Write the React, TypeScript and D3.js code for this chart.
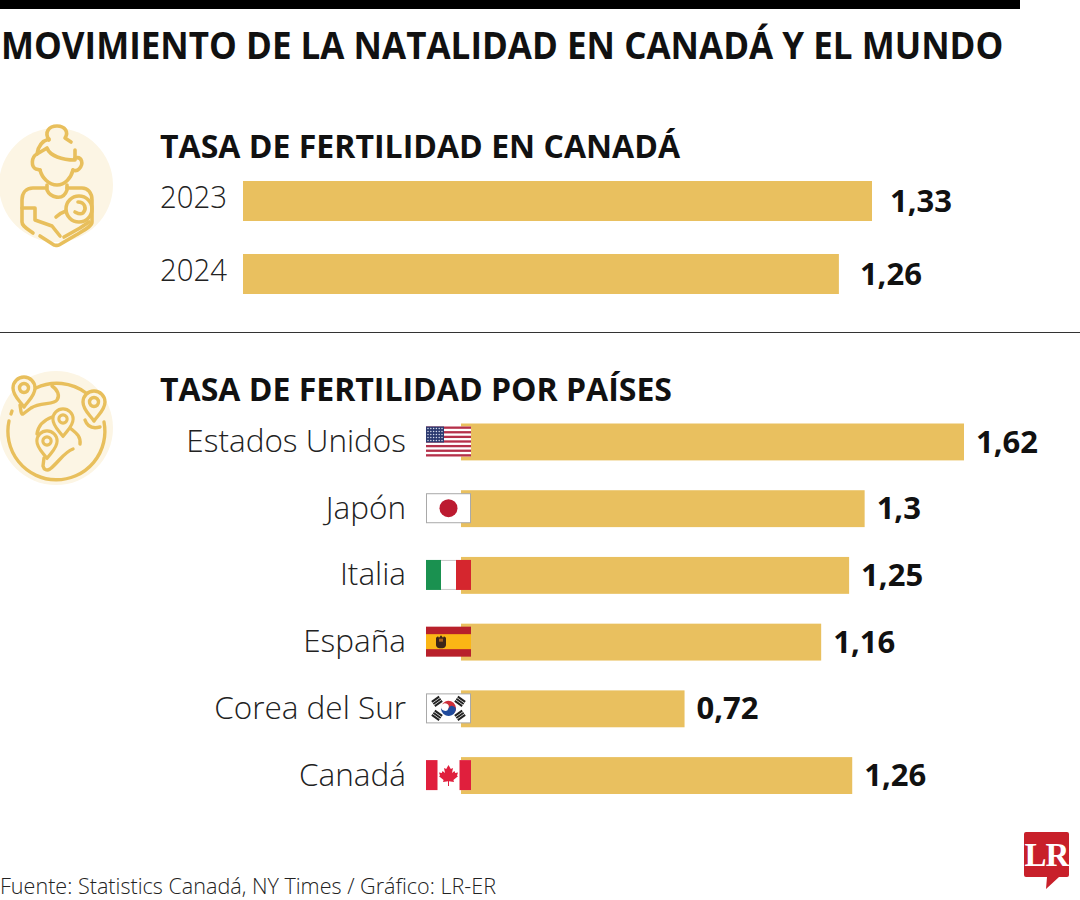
import React from "react";
import * as d3 from "d3";

const title = "MOVIMIENTO DE LA NATALIDAD EN CANADÁ Y EL MUNDO";
const canadaHeading = "TASA DE FERTILIDAD EN CANADÁ";
const countriesHeading = "TASA DE FERTILIDAD POR PAÍSES";
const source = "Fuente: Statistics Canadá, NY Times / Gráfico: LR-ER";
const years = ["2023", "2024"];
const yearValues = [1.33, 1.26];
const yearLabels = ["1,33", "1,26"];
const countries = ["Estados Unidos", "Japón", "Italia", "España", "Corea del Sur", "Canadá"];
const countryValues = [1.62, 1.3, 1.25, 1.16, 0.72, 1.26];
const countryLabels = ["1,62", "1,3", "1,25", "1,16", "0,72", "1,26"];
const flagCodes = ["us", "jp", "it", "es", "kr", "ca"];

const GOLD = "#e9c05f";
const ICON = "#e8bf5c";
const PALE = "#fcf5e4";
const FONT = "'Open Sans', sans-serif";

const yearX = d3.scaleLinear().domain([0, 1.33]).range([243, 872]);
const yearY = d3.scaleBand().domain(years).range([181, 294]).paddingInner(0.452).paddingOuter(0);
const countryX = d3.scaleLinear().domain([0, 1.62]).range([461, 964]);
const countryY = d3.scaleBand().domain(countries).range([423.5, 794]).paddingInner(0.447).paddingOuter(0);
const yearLabelGap = [18, 21];

function FitText({ x, y, width, children, ...rest }: any) {
  const ref = React.useRef<SVGTextElement>(null);
  React.useLayoutEffect(() => {
    const el = ref.current;
    if (!el) return;
    const natural = el.getComputedTextLength();
    el.setAttribute("transform", `translate(${x},${y}) scale(${width / natural},1)`);
  }, [x, y, width]);
  return <text ref={ref} transform={`translate(${x},${y})`} {...rest}>{children}</text>;
}

function Flag({ code, x, y }: { code: string; x: number; y: number }) {
  const w = 45, h = 30;
  const inner = () => {
    if (code === "us") {
      const stripes = d3.range(13);
      const stars: [number, number][] = [];
      d3.range(5).forEach((r) => d3.range(6).forEach((c) => stars.push([2 + c * 2.8, 2 + r * 3])));
      return (
        <g>
          <rect width={w} height={h} fill="#fff" />
          {stripes.filter((i) => i % 2 === 0).map((i) => (
            <rect key={i} y={(i * h) / 13} width={w} height={h / 13} fill="#b5304a" />
          ))}
          <rect width={18} height={16} fill="#2c3a70" />
          {stars.map(([sx, sy], i) => <circle key={i} cx={sx} cy={sy} r={0.75} fill="#d8dcec" />)}
        </g>
      );
    }
    if (code === "jp") {
      return (
        <g>
          <rect x={0.5} y={0.5} width={w - 1} height={h - 1} fill="#fff" stroke="#a9a9a9" />
          <circle cx={22.5} cy={15} r={9} fill="#bc1a30" />
        </g>
      );
    }
    if (code === "it") {
      return (
        <g>
          <rect x={14} y={0.5} width={17} height={h - 1} fill="#fff" stroke="#c9c9c9" />
          <rect width={15} height={h} fill="#1a9150" />
          <rect x={30} width={15} height={h} fill="#d5262e" />
        </g>
      );
    }
    if (code === "es") {
      return (
        <g>
          <rect width={w} height={h} fill="#b8202b" />
          <rect y={7.5} width={w} height={15} fill="#fbb615" />
          <path d="M10,11 L12,9.5 L13,11 L15,8.5 L17,11 L18,9.5 L20,11 L20,18 C20,21 17,21.5 15,21.5 C13,21.5 10,21 10,18 Z" fill="#3c2418" />
          <rect x={13} y={12} width={4} height={3} fill="#a8601e" />
        </g>
      );
    }
    if (code === "kr") {
      const bars: [number, number, number][] = [[11, 8, -35], [34, 8, 35], [11, 22, 35], [34, 22, -35]];
      return (
        <g>
          <rect x={0.5} y={0.5} width={w - 1} height={h - 1} fill="#fff" stroke="#a9a9a9" />
          {bars.map(([bx, by, a], i) => (
            <g key={i} transform={`translate(${bx},${by}) rotate(${a})`}>
              {[-2.6, 0, 2.6].map((o) => <rect key={o} x={-4.5} y={o - 1} width={9} height={2} fill="#222" />)}
            </g>
          ))}
          <g transform="translate(22.5,15) rotate(20)">
            <path d="M-7.5,0A7.5,7.5 0 0 1 7.5,0A3.75,3.75 0 0 1 0,0A3.75,3.75 0 0 0 -7.5,0Z" fill="#cd2e3a" />
            <path d="M-7.5,0A7.5,7.5 0 0 0 7.5,0A3.75,3.75 0 0 0 0,0A3.75,3.75 0 0 1 -7.5,0Z" fill="#1f4a9c" />
          </g>
        </g>
      );
    }
    return (
      <g>
        <rect width={w} height={h} fill="#fff" />
        <rect width={11.5} height={h} fill="#e01f3d" />
        <rect x={33.5} width={11.5} height={h} fill="#e01f3d" />
        <path
          d="M22.5,5 L24.8,9 L27,8 L26,13 L28.5,11 L29.2,13 L32,12.5 L31,15.5 L32,16.2 L27.4,20 L28,22 L23,21.2 L23,26 L22,26 L22,21.2 L17,22 L17.6,20 L13,16.2 L14,15.5 L13,12.5 L15.8,13 L16.5,11 L19,13 L18,8 L20.2,9 Z"
          fill="#e01f3d"
        />
      </g>
    );
  };
  return <g transform={`translate(${x},${y})`}>{inner()}</g>;
}

function MotherIcon() {
  return (
    <g>
      <circle cx={56} cy={185} r={57} fill={PALE} />
      <g fill="none" stroke={ICON} strokeWidth={3.6} strokeLinecap="round" strokeLinejoin="round">
        <path d="M49,140 C44,132 49,126 57,126 C65,126 69,132 65,138 L71,142" />
        <path d="M49,139 C42,141 38,147 37,154 C31,157 31,167 36,169 L40,170" />
        <path d="M37,154 C40,152 44,150 47,148 C50,156 62,160 75,160 L75,150" />
        <path d="M75,158 C82,156 84,164 79,169 C77,171 75,171 73,170" />
        <path d="M40,170 C42,178 49,185 57,185 C65,185 71,178 73,170" />
        <path d="M47,185 L47,190 C50,197 63,202 67,190 L67,185" />
        <path d="M46,188 L33,188 C26,188 22,193 22,200 L22,222 C22,226 26,228 33,233" />
        <path d="M67,188 L82,188 C88,188 92,193 92,200 L92,222 C92,226 86,229 76,235 L59,245 C57,246 55,245 54,245 L40,236" />
        <path d="M22,208 L35,208 L35,220 L52,226 L60,236" />
        <path d="M56,217 C60,213 63,212 66,211" />
        <circle cx={79} cy={209} r={13} />
        <path d="M78,202 C85,202 87,209 83,213 C80,215 77,213 75,212" />
        <path d="M89,222 L80,228 L64,237" />
      </g>
    </g>
  );
}

function GlobeIcon() {
  const pin = (cx: number, cy: number, s: number) => (
    <g transform={`translate(${cx},${cy}) scale(${s})`}>
      <path d="M0,19 C-4,13 -11,8 -11,0 A11,11 0 0 1 11,0 C11,8 4,13 0,19 Z" fill={PALE} />
      <circle r={4.5} fill={PALE} />
    </g>
  );
  return (
    <g>
      <circle cx={56} cy={428} r={57} fill={PALE} />
      <g fill="none" stroke={ICON} strokeWidth={3.4} strokeLinecap="round" strokeLinejoin="round">
        <path d="M36,388 A48.5,48.5 0 0 1 86,393" />
        <path d="M104,422 A48.5,48.5 0 1 1 9,421" />
        <path d="M11,414 L12,411" />
        <path d="M52,386 C58,390 60,396 57,400 C54,405 40,402 31,408 L23,414 C21,415 21,411 20,405" />
        <path d="M85,420 C87,426 92,429 100,427" />
        <path d="M52,417 C44,420 38,426 37,434" />
        <path d="M70,428 C76,433 81,436 80,444" />
        <path d="M44,458 L43,466 C44,470 47,471 50,469 C58,463 64,452 73,449" />
        {pin(94, 402, 1)}
        {pin(24, 388, 1)}
        {pin(63, 419, 0.92)}
        {pin(47, 441, 0.92)}
      </g>
    </g>
  );
}

function Logo() {
  return (
    <g>
      <path d="M1024,834 Q1024,832 1026,832 L1067,832 Q1069,832 1069,834 L1069,875 Q1069,877 1067,877 L1059,877 L1046,889 L1047,877 L1026,877 Q1024,877 1024,875 Z" fill="#c8202a" />
      <text x={1046.5} y={866} textAnchor="middle" fontFamily="'Liberation Serif', serif" fontWeight={700} fontSize={33} fill="#fff" letterSpacing={-1}>LR</text>
    </g>
  );
}

export default function App() {
  return (
    <svg width={1080} height={900} style={{ position: "absolute", left: 0, top: 0, background: "#fff" }} fontFamily={FONT}>
      <rect x={0} y={0} width={1020} height={9} fill="#000" />
      <FitText x={1} y={59} width={1003} fontSize={38} fontWeight={700} fill="#111">{title}</FitText>

      <MotherIcon />
      <text x={160} y={158} fontSize={32} fontWeight={700} fill="#111" textLength={520} lengthAdjust="spacingAndGlyphs">{canadaHeading}</text>
      {years.map((yr, i) => (
        <g key={yr}>
          <text x={160} y={(yearY(yr) as number) + 27} fontSize={32} fontWeight={300} fill="#222" textLength={67} lengthAdjust="spacingAndGlyphs">{yr}</text>
          <rect x={yearX(0)} y={yearY(yr)} width={yearX(yearValues[i]) - yearX(0)} height={yearY.bandwidth()} fill={GOLD} />
          <text x={yearX(yearValues[i]) + yearLabelGap[i]} y={(yearY(yr) as number) + 31} fontSize={31} fontWeight={700} fill="#111" textLength={62} lengthAdjust="spacingAndGlyphs">{yearLabels[i]}</text>
        </g>
      ))}

      <line x1={0} x2={1080} y1={332.5} y2={332.5} stroke="#333" strokeWidth={1} />

      <GlobeIcon />
      <text x={160} y={401} fontSize={32} fontWeight={700} fill="#111" textLength={512} lengthAdjust="spacingAndGlyphs">{countriesHeading}</text>
      {countries.map((c, i) => {
        const y0 = countryY(c) as number;
        return (
          <g key={c}>
            <text x={406} y={y0 + 28.5} textAnchor="end" fontSize={31.5} fontWeight={300} fill="#222">{c}</text>
            <rect x={countryX(0)} y={y0} width={countryX(countryValues[i]) - countryX(0)} height={countryY.bandwidth()} fill={GOLD} />
            <Flag code={flagCodes[i]} x={426} y={y0 + 3} />
            <text x={countryX(countryValues[i]) + 12} y={y0 + 29} fontSize={31} fontWeight={700} fill="#111">{countryLabels[i]}</text>
          </g>
        );
      })}

      <text x={0} y={894} fontSize={22} fontWeight={300} fill="#222" textLength={496} lengthAdjust="spacingAndGlyphs">{source}</text>
      <Logo />
    </svg>
  );
}
